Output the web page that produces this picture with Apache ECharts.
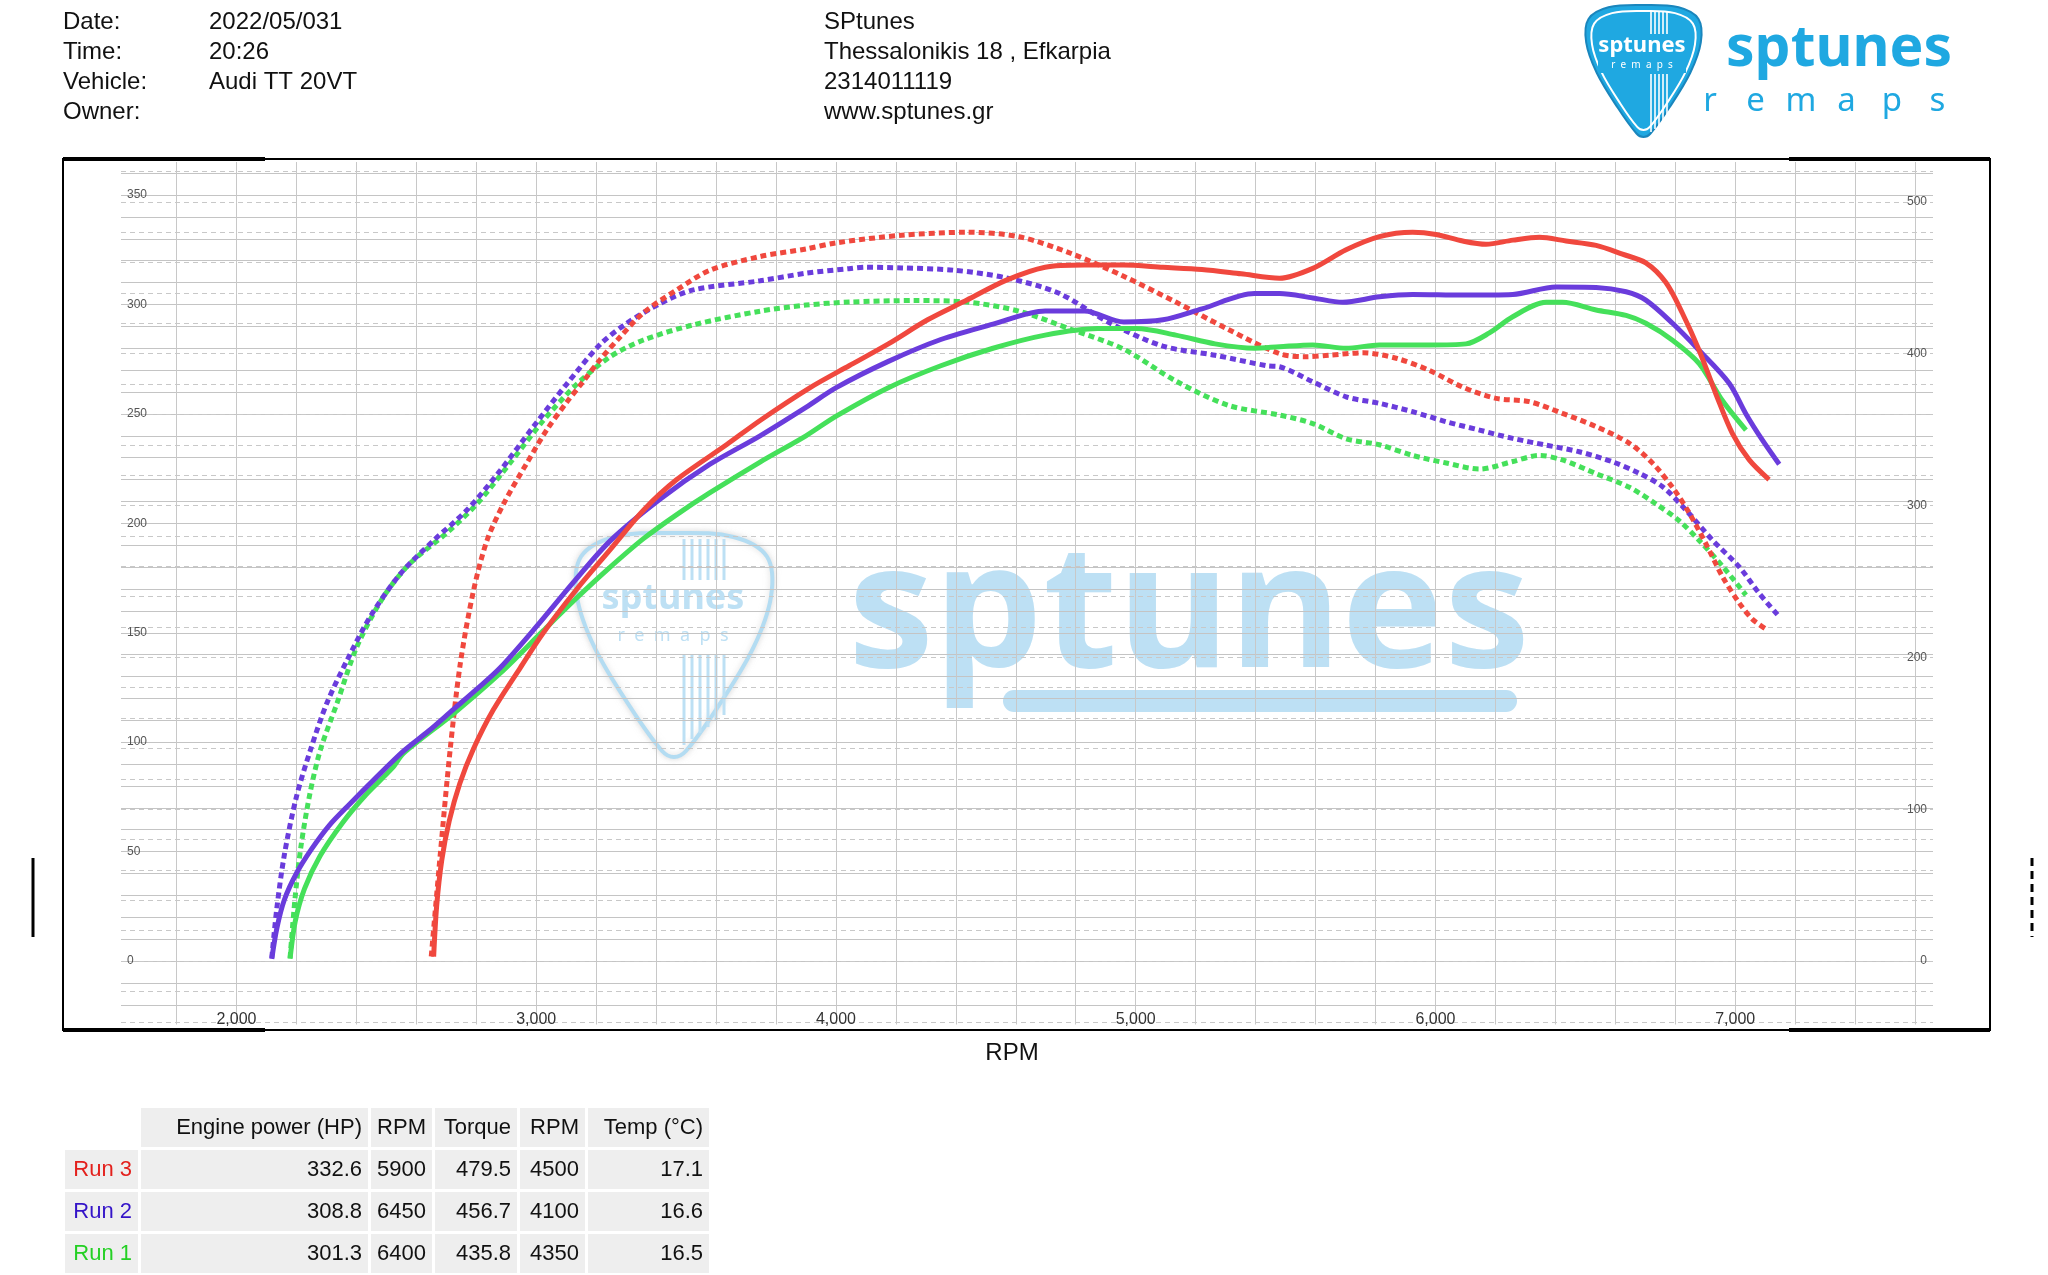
<!DOCTYPE html>
<html><head><meta charset="utf-8">
<script src="https://cdn.jsdelivr.net/npm/echarts@6/dist/echarts.min.js"></script>
<style>html,body{margin:0;padding:0;background:#fff}#c{width:2048px;height:1275px}</style>
</head><body><div id="c"></div>
<script>
// ---------------- DATA ----------------
const run3Power = [[2658,2],[2668,25],[2685,46],[2710,64],[2745,81],[2791,97],[2858,115],[2947,134],[3024,150],[3136,170],[3247,188],[3358,206],[3469,220],[3636,236],[3747,247],[3914,262],[4044,272],[4175,282],[4306,293],[4437,302],[4567,311],[4698,317],[4829,318],[4960,318],[5091,317],[5221,316],[5352,314],[5480,312],[5591,316.5],[5702,325],[5813,331],[5924,333],[6002,332],[6091,329],[6169,327.5],[6258,329.4],[6347,330.7],[6436,329],[6536,327],[6624,323],[6702,319],[6769,310],[6824,296],[6880,279],[6936,259],[6991,241],[7047,229],[7113,220]];
const run3Torque = [[2650,3],[2680,70],[2713,139],[2747,196],[2791,244],[2836,277],[2891,301],[2969,328],[3036,350],[3102,368],[3158,382],[3213,396],[3280,411],[3358,427],[3469,442],[3580,455],[3747,464],[3900,469],[4001,473],[4219,478],[4437,480],[4611,477],[4785,466],[4960,451],[5134,434],[5309,416],[5480,400],[5569,398],[5647,399],[5758,400.6],[5869,397],[5980,389],[6091,378],[6202,370.6],[6313,368.4],[6424,360.7],[6536,352],[6647,341],[6724,328],[6791,312],[6847,295],[6902,275],[6958,253],[7013,236],[7058,225],[7108,218]];
const run2Power = [[2118,1],[2135,15],[2160,28],[2200,40],[2250,51],[2310,62],[2380,72],[2460,83],[2558,96],[2640,105],[2724,115],[2800,124],[2880,134],[3002,153],[3124,173],[3247,192],[3413,211],[3580,227],[3747,240],[3900,253],[4001,262],[4175,274],[4350,284],[4524,291],[4698,297],[4829,297],[4960,292],[5091,293],[5221,298],[5396,305],[5480,305],[5591,303],[5691,301],[5813,303.5],[5924,304.6],[6091,304.3],[6258,304.6],[6402,308],[6536,307.8],[6636,305.8],[6702,302],[6791,291.4],[6880,279],[6980,264],[7036,250],[7091,238],[7147,227]];
const run2Torque = [[2118,2],[2135,35],[2160,70],[2200,108],[2247,139],[2302,170],[2369,198],[2447,227],[2547,255],[2658,277],[2769,297],[2880,323],[2991,352],[3102,380],[3213,406],[3302,420],[3413,433],[3524,442],[3747,448],[3900,453],[4044,456],[4100,457],[4219,456.5],[4393,455],[4567,450],[4742,440],[4916,420],[5091,405],[5265,399],[5439,392],[5480,391.4],[5591,381.5],[5702,371.6],[5813,367.3],[5924,361.8],[6036,355.2],[6147,349.7],[6258,344.2],[6369,339.8],[6480,335.4],[6591,328.8],[6680,321.2],[6758,312.4],[6836,297],[6924,277.3],[7013,259.7],[7080,242.2],[7147,226.8]];
const run1Power = [[2179,1],[2196,18],[2227,33],[2279,48],[2353,63],[2432,76],[2519,88],[2558,95],[2724,113],[2880,131.5],[3024,151],[3136,166],[3247,180],[3358,193],[3469,204],[3580,214],[3747,228],[3900,240],[4001,249],[4175,262],[4350,272],[4524,280],[4698,286],[4873,289],[5003,289],[5134,286],[5265,282],[5396,280],[5480,280.7],[5591,281.5],[5702,280],[5813,281.5],[5980,281.5],[6102,282],[6180,287],[6258,294.4],[6369,301],[6424,301],[6536,297.5],[6636,295],[6702,291.4],[6791,283.7],[6880,273],[6958,256],[7036,242.6]];
const run1Torque = [[2179,2],[2195,40],[2215,75],[2245,110],[2280,139],[2336,170],[2402,207],[2491,240],[2580,262],[2702,282],[2802,301],[2913,328],[3024,356],[3136,380],[3247,398],[3358,409],[3524,419],[3747,428],[3900,432],[4044,434],[4262,435],[4437,434],[4611,428],[4785,416],[4960,403],[5134,382],[5309,366],[5480,359.6],[5591,354],[5702,344],[5813,340],[5924,333],[6036,328],[6147,324],[6258,329],[6347,333],[6424,330],[6536,321],[6647,312],[6736,301],[6813,290],[6880,277],[6958,260],[7036,241]];

const rpmLabels = [2000,3000,4000,5000,6000,7000];
const powerLabels = [0,50,100,150,200,250,300,350];
const torqueLabels = [0,100,200,300,400,500];

const headerLabels = ['Date:','Time:','Vehicle:','Owner:'];
const headerValues = ['2022/05/031','20:26','Audi TT 20VT',''];
const shopInfo = ['SPtunes','Thessalonikis 18 , Efkarpia','2314011119','www.sptunes.gr'];

const tableHeader = ['Engine power (HP)','RPM','Torque','RPM','Temp (°C)'];
const runNames = ['Run 3','Run 2','Run 1'];
const peakPower = [332.6, 308.8, 301.3];
const peakPowerRpm = [5900, 6450, 6400];
const peakTorque = [479.5, 456.7, 435.8];
const peakTorqueRpm = [4500, 4100, 4350];
const temps = [17.1, 16.6, 16.5];

// ---------------- STYLE ----------------
const FONT = '"Liberation Sans", Arial, sans-serif';
const LOGO_FONT = '"Noto Sans", "Open Sans", sans-serif';
const cRed = '#f0483e', cPurple = '#6a3cdc', cGreen = '#45e05a';
const runTextColors = ['#e3201c','#3414c8','#24d024'];
const blue = '#1fa8e1', wmBlue = '#bde0f4';

const hpMin = -29, hpMax = 365.1, k = 1.4414;
const rpmTicks = []; for (let v = 1800; v <= 7600; v += 200) rpmTicks.push(v);
const hpTicks = []; for (let v = -20; v <= 360; v += 10) hpTicks.push(v);
const nmTicks = []; for (let v = -40; v <= 520; v += 20) nmTicks.push(v);

const chart = echarts.init(document.getElementById('c'), null, {renderer:'canvas', width:2048, height:1275});

// ---------------- GRAPHICS ----------------
const g = [];
const txt = (text, x, y, o, z) => ({type:'text', x, y, z: z||0, style:Object.assign({text, fill:'#111', font:'24px ' + FONT, textAlign:'left', textVerticalAlign:'middle'}, o||{})});
const hdrY = [22, 52, 82, 112];
headerLabels.forEach((t,i)=>g.push(txt(t, 63, hdrY[i])));
headerValues.forEach((t,i)=>g.push(txt(t, 209, hdrY[i])));
shopInfo.forEach((t,i)=>g.push(txt(t, 824, hdrY[i])));

// guitar-pick outline (unit box 100 x 113)
const pickUnit = [[50,0],[80,2],[97,12],[99,32],[90,58],[72,88],[56,110],[50,113],[44,110],[28,88],[10,58],[1,32],[3,12],[20,2]];
const pick = (x, y, w, h) => pickUnit.map(p => [x + p[0]*w/100, y + p[1]*h/113]);

// top-right logo
g.push({type:'polygon', shape:{points:pick(1585,5,117,132), smooth:0.35}, style:{fill:blue, stroke:'#1a86bd', lineWidth:2}});
g.push({type:'polygon', shape:{points:pick(1591,11,105,119), smooth:0.35}, style:{fill:null, stroke:'#ffffff', lineWidth:2}});
for (let i=0;i<5;i++){
  g.push({type:'line', shape:{x1:1651+i*4, y1:12, x2:1651+i*4, y2:34}, style:{stroke:'#fff', lineWidth:1.6}});
  g.push({type:'line', shape:{x1:1651+i*4, y1:74, x2:1651+i*4, y2:132-i*3}, style:{stroke:'#fff', lineWidth:1.6}});
}
g.push({type:'rect', shape:{x:1598,y:35,width:88,height:38}, style:{fill:blue}});
g.push(txt('sptunes', 1642, 46, {fill:'#fff', font:'bold 22px ' + LOGO_FONT, textAlign:'center'}));
g.push(txt('r  e  m  a  p  s', 1642, 65, {fill:'#fff', font:'10px ' + LOGO_FONT, textAlign:'center'}));
g.push(txt('sptunes', 1726, 50, {fill:blue, font:'bold 57px ' + LOGO_FONT, textAlign:'left'}));
['r','e','m','a','p','s'].forEach((ch,i)=>g.push(txt(ch, 1710 + i*45.5, 102, {fill:blue, font:'33px ' + LOGO_FONT, textAlign:'center'})));

// watermark (under grid lines)
g.push({type:'polygon', z:-5, shape:{points:pick(575,533,198,224), smooth:0.35}, style:{fill:'#ffffff', stroke:'#b3dcf2', lineWidth:4, shadowBlur:6, shadowColor:'rgba(200,200,200,0.6)'}});
for (let i=0;i<6;i++){
  g.push({type:'line', z:-5, shape:{x1:684+i*8, y1:539, x2:684+i*8, y2:580}, style:{stroke:wmBlue, lineWidth:3}});
  g.push({type:'line', z:-5, shape:{x1:684+i*8, y1:655, x2:684+i*8, y2:745-i*6}, style:{stroke:wmBlue, lineWidth:3}});
}
g.push({type:'rect', z:-5, shape:{x:615,y:582,width:120,height:70}, style:{fill:'#ffffff'}});
g.push(txt('sptunes', 673, 599, {fill:wmBlue, font:'bold 36px ' + LOGO_FONT, textAlign:'center'}, -4));
g.push(txt('r  e  m  a  p  s', 673, 636, {fill:wmBlue, font:'18px ' + LOGO_FONT, textAlign:'center'}, -4));
g.push(txt('sptunes', 848, 618, {fill:wmBlue, font:'bold 172px ' + LOGO_FONT, textAlign:'left'}, -4));
g.push({type:'rect', z:-4, shape:{x:1003,y:690,width:514,height:22,r:11}, style:{fill:wmBlue}});

// axis titles and line-style keys
g.push(txt('RPM', 1012, 1053, {textAlign:'center'}));
g.push(Object.assign(txt('Power (HP)', 22, 694, {textAlign:'center'}), {rotation:Math.PI/2, originX:22, originY:694}));
g.push(Object.assign(txt('Torque (Nm)', 2022, 692, {textAlign:'center'}), {rotation:Math.PI/2, originX:2022, originY:692}));
g.push({type:'line', shape:{x1:33,y1:858,x2:33,y2:937}, style:{stroke:'#000', lineWidth:3}});
g.push({type:'line', shape:{x1:2032,y1:858,x2:2032,y2:937}, style:{stroke:'#000', lineWidth:3, lineDash:[8,5]}});

// frame
g.push({type:'rect', z:100, shape:{x:63,y:159,width:1927,height:871}, style:{fill:null, stroke:'#000', lineWidth:2}});
[[63,265,159],[1789,1990,159],[63,265,1030],[1789,1990,1030]].forEach(s=>g.push({type:'line', z:100, shape:{x1:s[0],y1:s[2],x2:s[1],y2:s[2]}, style:{stroke:'#000', lineWidth:4}}));

// table
const colX = [65,141,371,435,520,588], colR = [138,368,432,517,585,709];
const rowY = [1108,1150,1192,1234], rowH = 39;
const cellBg = '#eeeeee';
tableHeader.forEach((h,j)=>{
  g.push({type:'rect', shape:{x:colX[j+1], y:rowY[0], width:colR[j+1]-colX[j+1], height:rowH}, style:{fill:cellBg}});
  g.push(txt(h, colR[j+1]-6, rowY[0]+rowH/2, {textAlign:'right', font:'22px ' + FONT}));
});
runNames.forEach((r,i)=>{
  const vals = [peakPower[i].toFixed(1), String(peakPowerRpm[i]), peakTorque[i].toFixed(1), String(peakTorqueRpm[i]), temps[i].toFixed(1)];
  const y = rowY[i+1];
  g.push({type:'rect', shape:{x:colX[0], y, width:colR[0]-colX[0], height:rowH}, style:{fill:cellBg}});
  g.push(txt(r, colR[0]-6, y+rowH/2, {textAlign:'right', font:'22px ' + FONT, fill:runTextColors[i]}));
  vals.forEach((v,j)=>{
    g.push({type:'rect', shape:{x:colX[j+1], y, width:colR[j+1]-colX[j+1], height:rowH}, style:{fill:cellBg}});
    g.push(txt(v, colR[j+1]-6, y+rowH/2, {textAlign:'right', font:'22px ' + FONT}));
  });
});

// ---------------- SERIES ----------------
function line(name, data, color, yIdx, dashed){
  return {name, type:'line', data, xAxisIndex:0, yAxisIndex:yIdx, showSymbol:false, smooth:0.3,
    lineStyle:{color, width:5, type: dashed ? [6,4] : 'solid', cap:'butt'}, itemStyle:{color}, z: dashed ? 3 : 4, animation:false};
}

const option = {
  animation:false,
  backgroundColor:'#ffffff',
  grid:{left:121, right:115, top:162, bottom:250.5},
  xAxis:[{type:'value', min:1615, max:7660, z:1,
    axisLine:{show:false}, axisTick:{show:false, customValues:rpmTicks},
    splitLine:{show:true, lineStyle:{color:'#c8c8c8', width:1}},
    axisLabel:{customValues:rpmLabels, inside:true, margin:-3, fontSize:16, color:'#333', fontFamily:FONT,
      formatter:v=>Number(v).toLocaleString('en-US')}}],
  yAxis:[
    {type:'value', position:'left', min:hpMin, max:hpMax, z:1,
      axisLine:{show:false}, axisTick:{show:false, customValues:hpTicks},
      splitLine:{show:true, lineStyle:{color:'#c4c4c4', width:1}},
      axisLabel:{customValues:powerLabels, inside:true, margin:6, fontSize:12, color:'#555', fontFamily:FONT}},
    {type:'value', position:'right', min:hpMin*k, max:hpMax*k, z:1,
      axisLine:{show:false}, axisTick:{show:false, customValues:nmTicks},
      splitLine:{show:true, lineStyle:{color:'#c8c8c8', width:1, type:[5,4]}},
      axisLabel:{customValues:torqueLabels, inside:true, margin:6, fontSize:12, color:'#555', fontFamily:FONT}}
  ],
  graphic:{elements:g},
  series:[
    line('Run 1 Torque', run1Torque, cGreen, 1, true),
    line('Run 2 Torque', run2Torque, cPurple, 1, true),
    line('Run 3 Torque', run3Torque, cRed, 1, true),
    line('Run 1 Power', run1Power, cGreen, 0, false),
    line('Run 2 Power', run2Power, cPurple, 0, false),
    line('Run 3 Power', run3Power, cRed, 0, false)
  ]
};
chart.setOption(option);
</script></body></html>
